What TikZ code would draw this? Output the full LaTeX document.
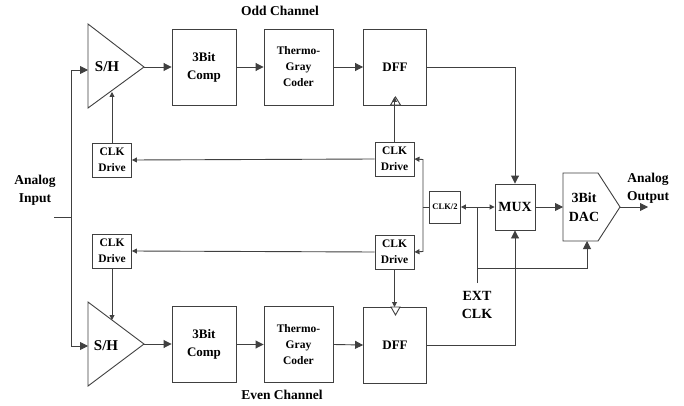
\documentclass[tikz,border=0pt]{standalone}
\usepackage{fontspec}
\setmainfont{Liberation Serif}
\usetikzlibrary{arrows.meta,calc}
\tikzset{
 x=1pt,y=-1pt,
 ln/.style={draw=black!75!white,line width=0.9pt},
 blk/.style={ln,fill=white,inner sep=0pt,align=center,font=\bfseries\fontsize{13}{15}\selectfont},
 bigbox/.style={blk,minimum width=63pt,minimum height=76pt},
 drv/.style={blk,minimum width=39pt,minimum height=34pt,font=\bfseries\fontsize{11.5}{16}\selectfont},
 lab/.style={inner sep=0pt,align=center,font=\bfseries\fontsize{13.5}{18}\selectfont},
 big/.style={-{Triangle[length=8pt,width=8pt]},ln},
 small/.style={-{Triangle[length=5pt,width=5pt]},ln},
}
\begin{document}
\begin{tikzpicture}
\useasboundingbox[fill=white] (0,0) rectangle (684,406);
% S/H triangles
\coordinate (s1a) at (88,24); \coordinate (s1b) at (88,108); \coordinate (s1t) at (144,67);
\coordinate (s2a) at (88,302); \coordinate (s2b) at (88,386); \coordinate (s2t) at (144,344);
\draw[ln,join=miter] (s1a)--(s1t)--(s1b)--cycle;
\draw[ln,join=miter] (s2a)--(s2t)--(s2b)--cycle;
\node[lab,font=\bfseries\fontsize{15}{17}\selectfont] (sh1) at (107,67) {S/H};
\node[lab,font=\bfseries\fontsize{15}{17}\selectfont] (sh2) at (106,346) {S/H};
% big boxes
\node[bigbox,minimum width=64pt] (c1) at (204,67) {3Bit\\[3pt]Comp};
\node[bigbox,minimum width=69pt,font=\bfseries\fontsize{11.5}{16}\selectfont] (t1) at (298.5,67) {Thermo-\\Gray\\Coder};
\node[bigbox] (d1) at (395,67) {DFF};
\node[bigbox,minimum width=64pt] (c2) at (204,344.5) {3Bit\\[3pt]Comp};
\node[bigbox,minimum width=69pt,font=\bfseries\fontsize{11.5}{16}\selectfont] (t2) at (298.5,344.5) {Thermo-\\Gray\\Coder};
\node[bigbox] (d2) at (395,345) {DFF};
% clock triangles on the DFFs
\draw[ln,fill=white] (390.5,105)--(395.5,97)--(400.5,105)--cycle;
\draw[ln,fill=white] (391,307)--(395.5,315)--(400,307)--cycle;
% drivers
\node[drv] (k1) at (112,160) {CLK\\Drive};
\node[drv] (k2) at (112,251) {CLK\\Drive};
\node[drv] (k3) at (394.5,159) {CLK\\Drive};
\node[drv] (k4) at (394.5,252) {CLK\\Drive};
\node[blk,minimum width=31pt,minimum height=32pt,font=\bfseries\fontsize{8.5}{10}\selectfont] (div) at (445,207) {CLK/2};
\node[blk,minimum width=40pt,minimum height=46pt,font=\bfseries\fontsize{14}{16}\selectfont] (mux) at (515,207) {MUX};
% DAC
\coordinate (dl1) at (563,173); \coordinate (dr1) at (598,173); \coordinate (dt) at (620,207);
\coordinate (dr2) at (598,241); \coordinate (dl2) at (563,241);
\draw[ln] (dl1)--(dr1)--(dt)--(dr2)--(dl2)--cycle;
\node[lab,font=\bfseries\fontsize{14}{19}\selectfont] (dac) at (584,207) {3Bit\\DAC};
% labels
\node[lab] (odd) at (280,11) {Odd Channel};
\node[lab] (even) at (282,395) {Even Channel};
\node[lab] (ai) at (35,190) {Analog\\Input};
\node[lab] (ao) at (648,188) {Analog\\Output};
\node[lab,font=\bfseries\fontsize{14}{18}\selectfont] (ext) at (477,305) {EXT\\CLK};
% input
\coordinate (istub) at (54,217); \coordinate (ij) at (71,217);
\draw[ln] (istub)--(ij);
\draw[big] (ij)--(71,70)--(88,70);
\draw[big] (ij)--(71,346)--(88,346);
% signal path
\draw[big] (s1t)--(c1.west|-s1t);
\draw[big] (c1)++(32,0)--(t1.west);
\draw[big] (t1.east)--(d1.west);
\draw[big] (s2t)--(c2.west|-s2t);
\draw[big] (c2)++(32,0)--(t2.west);
\draw[big] (t2.east)--(d2.west);
\draw[big] (d1.east)--(mux.north|-d1.east)--(mux.north);
\draw[big] (d2.east)--(mux.south|-d2.east)--(mux.south);
\draw[big] (mux.east)--(dl1|-mux.east);
\coordinate (oend) at (648,207);
\draw[big] (dt)--(oend);
% clocks
\draw[small] (k1.north)--(112,92);
\draw[small] (k2.south)--(112,320);
\draw[small] (k3.north)--(394.5,97);
\draw[small] (k4.south)--(394.5,307);
\draw[small] (k3.west)--(k1.east);
\draw[small] (k4.west)--(k2.east);
\coordinate (bus) at (423,207);
\draw[ln] (div.west)--(bus);
\draw[small] (bus)--(423,159.5)--(k3.east);
\draw[small] (bus)--(423,251.5)--(k4.east);
% ext clk
\coordinate (ej) at (477,207); \coordinate (ee) at (477,283); \coordinate (eb) at (477,268);
\draw[ln] (ee)--(ej);
\draw[small] (ej)--(div.east);
\draw[small] (ej)--(mux.west);
\draw[big] (eb)--(587,268)--(587,241);
\end{tikzpicture}
\end{document}
